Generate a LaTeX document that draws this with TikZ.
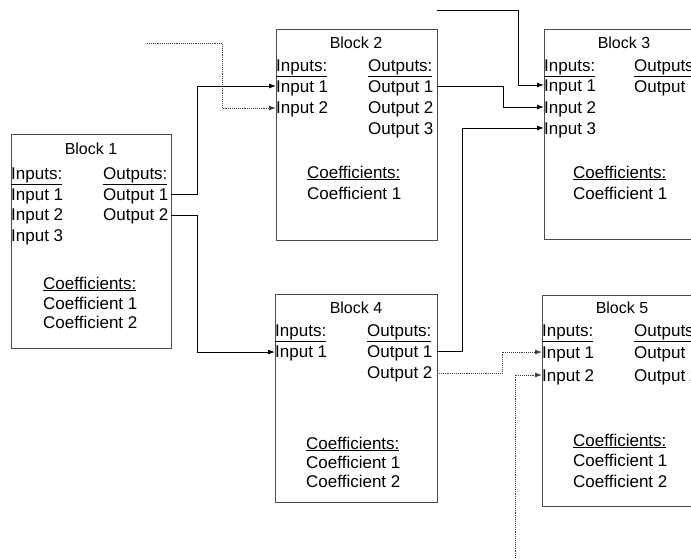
\documentclass[tikz,border=0pt]{standalone}
\usepackage{fontspec}
\setmainfont{Liberation Sans}
\usetikzlibrary{arrows.meta}
\begin{document}
\begin{tikzpicture}[x=1pt,y=-1pt,
  box/.style={draw=black!70, line width=0.8pt, inner sep=0pt, anchor=north west},
  lbl/.style={inner sep=0pt, anchor=base west, font=\fontsize{17}{20}\selectfont},
  ttl/.style={inner sep=0pt, anchor=base, font=\fontsize{16}{19}\selectfont},
  wire/.style={draw=black, line width=0.9pt, -{Latex[length=7pt,width=5pt]}},
  dwire/.style={draw=black!75, line width=0.9pt, densely dotted, -{Latex[length=7pt,width=5pt]}}]
\useasboundingbox (0,0) rectangle (691,558);
\clip (0,0) rectangle (691,558);
% boxes
\node[box, minimum width=160pt, minimum height=214pt] (B1) at (11,134) {};
\node[box, minimum width=161pt, minimum height=211pt] (B2) at (276,29) {};
\node[box, minimum width=180pt, minimum height=210pt] (B3) at (544,29) {};
\node[box, minimum width=162pt, minimum height=208pt] (B4) at (275,294) {};
\node[box, minimum width=180pt, minimum height=211pt] (B5) at (542,295) {};
% block 1
\node[ttl] (b1t) at (91,154) {Block 1};
\node[lbl] (b1ih) at (11,179) {\underline{Inputs:}};
\node[lbl] (b1oh) at (103,179) {\underline{Outputs:}};
\node[lbl] (b1in1) at (11,200) {Input 1};
\node[lbl] (b1in2) at (11,220) {Input 2};
\node[lbl] (b1in3) at (11,241) {Input 3};
\node[lbl] (b1out1) at (103,200) {Output 1};
\node[lbl] (b1out2) at (103,220) {Output 2};
\node[lbl] (b1ch) at (43,289) {\underline{Coefficients:}};
\node[lbl] (b1c1) at (43,309) {Coefficient 1};
\node[lbl] (b1c2) at (43,328) {Coefficient 2};
% block 2
\node[ttl] (b2t) at (356,48) {Block 2};
\node[lbl] (b2ih) at (276,71) {\underline{Inputs:}};
\node[lbl] (b2oh) at (368,71) {\underline{Outputs:}};
\node[lbl] (b2in1) at (276,92) {Input 1};
\node[lbl] (b2in2) at (276,113) {Input 2};
\node[lbl] (b2out1) at (368,92) {Output 1};
\node[lbl] (b2out2) at (368,113) {Output 2};
\node[lbl] (b2out3) at (368,134) {Output 3};
\node[lbl] (b2ch) at (307,178) {\underline{Coefficients:}};
\node[lbl] (b2c1) at (307,199) {Coefficient 1};
% block 3
\node[ttl] (b3t) at (624,48) {Block 3};
\node[lbl] (b3ih) at (544,71) {\underline{Inputs:}};
\node[lbl] (b3oh) at (634,71) {\underline{Outputs:}};
\node[lbl] (b3in1) at (544,91) {Input 1};
\node[lbl] (b3in2) at (544,113) {Input 2};
\node[lbl] (b3in3) at (544,134) {Input 3};
\node[lbl] (b3out1) at (634,92) {Output 1};
\node[lbl] (b3ch) at (573,178) {\underline{Coefficients:}};
\node[lbl] (b3c1) at (573,199) {Coefficient 1};
% block 4
\node[ttl] (b4t) at (356,313) {Block 4};
\node[lbl] (b4ih) at (275,336) {\underline{Inputs:}};
\node[lbl] (b4oh) at (367,336) {\underline{Outputs:}};
\node[lbl] (b4in1) at (275,357) {Input 1};
\node[lbl] (b4out1) at (367,357) {Output 1};
\node[lbl] (b4out2) at (367,378) {Output 2};
\node[lbl] (b4ch) at (306,449) {\underline{Coefficients:}};
\node[lbl] (b4c1) at (306,468) {Coefficient 1};
\node[lbl] (b4c2) at (306,487) {Coefficient 2};
% block 5
\node[ttl] (b5t) at (622,313) {Block 5};
\node[lbl] (b5ih) at (542,336) {\underline{Inputs:}};
\node[lbl] (b5oh) at (634,336) {\underline{Outputs:}};
\node[lbl] (b5in1) at (542,358) {Input 1};
\node[lbl] (b5in2) at (542,381) {Input 2};
\node[lbl] (b5out1) at (634,358) {Output 1};
\node[lbl] (b5out2) at (634,381) {Output 2};
\node[lbl] (b5ch) at (573,446) {\underline{Coefficients:}};
\node[lbl] (b5c1) at (573,466) {Coefficient 1};
\node[lbl] (b5c2) at (573,487) {Coefficient 2};
% ports
\coordinate (b1o1) at (171,194);
\coordinate (b1o2) at (171,215);
\coordinate (b2i1) at (276,86);
\coordinate (b2i2) at (276,108);
\coordinate (b2o1) at (437,86);
\coordinate (b3i1) at (544,85);
\coordinate (b3i2) at (544,107);
\coordinate (b3i3) at (544,128);
\coordinate (b4i1) at (275,352);
\coordinate (b4o1) at (437,351);
\coordinate (b4o2) at (437,373);
\coordinate (b5i1) at (542,352);
\coordinate (b5i2) at (542,375);
\coordinate (s1) at (147,43);
\coordinate (s2) at (437,10);
\coordinate (s3) at (515,558);
% connectors
\draw[wire] (b1o1) -- ++(26,0) |- (b2i1);
\draw[wire] (b1o2) -- ++(26,0) |- (b4i1);
\draw[dwire] (s1) -- ++(75,0) |- (b2i2);
\draw[wire] (b2o1) -- ++(66,0) |- (b3i2);
\draw[wire] (s2) -- ++(81,0) |- (b3i1);
\draw[wire] (b4o1) -- ++(25,0) |- (b3i3);
\draw[dwire] (b4o2) -- ++(65,0) |- (b5i1);
\draw[dwire] (s3) |- (b5i2);
\end{tikzpicture}
\end{document}
